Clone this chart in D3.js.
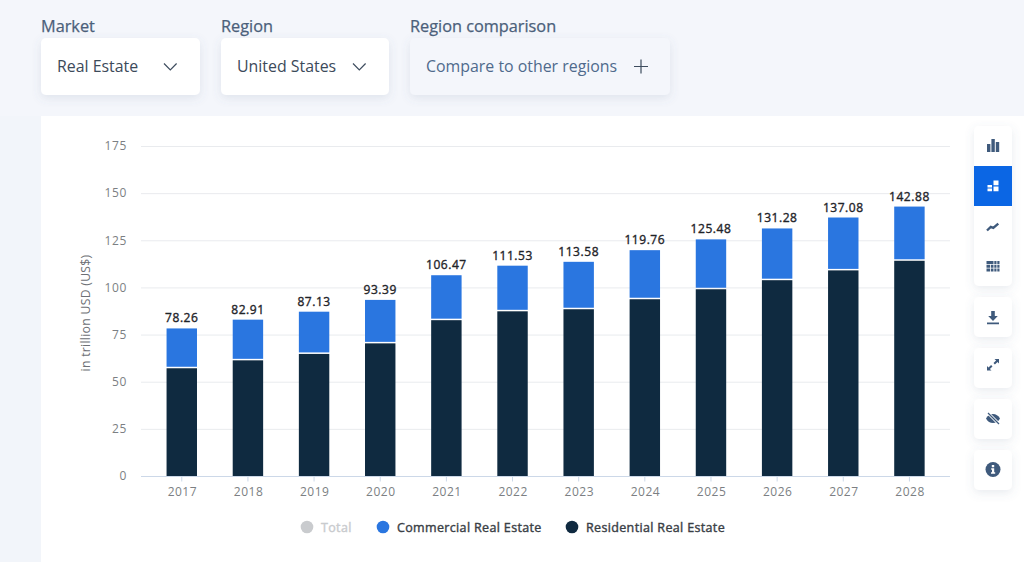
<!DOCTYPE html>
<html>
<head>
<meta charset="utf-8">
<script src="https://cdn.jsdelivr.net/npm/d3@7"></script>
<style>
html,body{margin:0;padding:0;background:#fff;overflow:hidden}
svg{display:block}
text{font-family:"Open Sans",sans-serif}
</style>
</head>
<body>
<svg id="chart" width="1024" height="562"></svg>
<script>
// Market values, trillion USD
const years = ["2017","2018","2019","2020","2021","2022","2023","2024","2025","2026","2027","2028"];
const totals = [78.26,82.91,87.13,93.39,106.47,111.53,113.58,119.76,125.48,131.28,137.08,142.88];
const residential = [57.4,61.6,65.0,70.6,82.9,87.6,88.7,94.0,99.3,104.1,109.3,114.4];
const commercial = totals.map((t,i)=>t-residential[i]);
const yTicks = [0,25,50,75,100,125,150,175];
const legendItems = [
  {name:"Total",color:"#c9cbce",text:"#c9cbce",x:307},
  {name:"Commercial Real Estate",color:"#2a76e0",text:"#3a4046",x:383},
  {name:"Residential Real Estate",color:"#0f2a40",text:"#3a4046",x:572}
];
const filters = [
  {label:"Market",value:"Real Estate",x:41,w:159,mark:"chevron"},
  {label:"Region",value:"United States",x:221,w:168,mark:"chevron"},
  {label:"Region comparison",value:"Compare to other regions",x:410,w:260,mark:"plus"}
];

const svg = d3.select("#chart");
const defs = svg.append("defs");
const shadow = defs.append("filter").attr("id","soft").attr("x","-30%").attr("y","-30%").attr("width","160%").attr("height","170%");
shadow.append("feDropShadow").attr("dx",0).attr("dy",3).attr("stdDeviation",5)
  .attr("flood-color","#5a7090").attr("flood-opacity",0.14);

// Page backdrop: header band and left gutter
svg.append("rect").attr("width",1024).attr("height",116).attr("fill","#f4f6fb");
svg.append("rect").attr("y",116).attr("width",41).attr("height",446).attr("fill","#f2f5fa");

// Filter controls
const filterG = svg.append("g").selectAll("g").data(filters).join("g")
  .attr("transform",d=>`translate(${d.x},0)`);
filterG.append("text").attr("x",0).attr("y",32).attr("font-size",16.3).attr("fill","#4b607a")
  .attr("stroke","#4b607a").attr("stroke-width",0.25).text(d=>d.label);
filterG.append("rect").attr("y",38).attr("width",d=>d.w).attr("height",57).attr("rx",5)
  .attr("fill",d=>d.mark==="plus"?"#f4f6fb":"#fff").attr("filter","url(#soft)");
filterG.append("text").attr("x",16).attr("y",72).attr("font-size",15.9)
  .attr("fill",d=>d.mark==="plus"?"#4f6a8c":"#3c4a5a").text(d=>d.value);
filterG.filter(d=>d.mark==="chevron").append("path")
  .attr("d",d=>`M${d.w-36},63.5 l6.3,6.3 l6.3,-6.3`).attr("fill","none").attr("stroke","#3d4c5e").attr("stroke-width",1.2);
filterG.filter(d=>d.mark==="plus").append("path")
  .attr("d",d=>`M${d.w-36},66.5 h14 M${d.w-29},59.5 v14`).attr("fill","none").attr("stroke","#3d4c5e").attr("stroke-width",1.2);

// Scales
const x = d3.scaleBand().domain(years).range([148.7,942.5]).paddingInner(0.54).paddingOuter(0.27);
const y = d3.scaleLinear().domain([0,175]).range([476,146]);

// Horizontal grid
svg.append("g").selectAll("line").data(yTicks.filter(t=>t>0)).join("line")
  .attr("x1",141).attr("x2",950).attr("y1",d=>y(d)+0.5).attr("y2",d=>y(d)+0.5)
  .attr("stroke","#e9ebee").attr("stroke-width",1);

// Axes
const yAxis = svg.append("g").attr("transform","translate(127,0)")
  .call(d3.axisLeft(y).tickValues(yTicks).tickSize(0).tickPadding(0));
yAxis.select(".domain").remove();
yAxis.selectAll("text").attr("font-family","'Open Sans',sans-serif").attr("font-size",12).attr("fill","#7c7f83").attr("letter-spacing",0.6);

const xAxis = svg.append("g").attr("transform","translate(0,476.5)")
  .call(d3.axisBottom(x).tickSize(5).tickPadding(6));
xAxis.select(".domain").attr("d","M141,0H950").attr("stroke","#ccd8e8").attr("stroke-width",1);
xAxis.selectAll("line").attr("stroke","#ccd8e8");
xAxis.selectAll("text").attr("font-family","'Open Sans',sans-serif").attr("font-size",12).attr("fill","#7c7f83").attr("letter-spacing",0.5).attr("dx",0.6);

svg.append("text").attr("transform","translate(90,313) rotate(-90)").attr("text-anchor","middle")
  .attr("font-size",12.2).attr("fill","#6d7075").attr("letter-spacing",0.3).text("in trillion USD (US$)");

// Stacked bars
const bars = svg.append("g").selectAll("g").data(years).join("g");
bars.append("rect").attr("x",d=>x(d)).attr("width",x.bandwidth())
  .attr("y",(d,i)=>y(residential[i])+0.5).attr("height",(d,i)=>y(0)-y(residential[i])-0.5)
  .attr("fill","#0f2a40");
bars.append("rect").attr("x",d=>x(d)).attr("width",x.bandwidth())
  .attr("y",(d,i)=>y(residential[i]+commercial[i])).attr("height",(d,i)=>y(residential[i])-y(residential[i]+commercial[i])-1)
  .attr("fill","#2a76e0");
bars.append("text").attr("x",d=>x(d)+x.bandwidth()/2).attr("y",(d,i)=>y(totals[i])-6)
  .attr("text-anchor","middle").attr("font-size",12).attr("fill","#1f2429").attr("letter-spacing",0.55)
  .attr("stroke","#1f2429").attr("stroke-width",0.35)
  .text((d,i)=>totals[i].toFixed(2));

// Legend
const legend = svg.append("g").selectAll("g").data(legendItems).join("g")
  .attr("transform",d=>`translate(${d.x},527)`);
legend.append("circle").attr("r",6.3).attr("fill",d=>d.color);
legend.append("text").attr("x",14).attr("y",4.5).attr("font-size",12.5)
  .attr("fill",d=>d.text).attr("stroke",d=>d.text).attr("stroke-width",0.4)
  .attr("letter-spacing",0.35).text(d=>d.name);

// Toolbar on the right
const iconInk = "#3f5a7c";
const cards = [[974,126,38,160],[974,297,38,40],[974,348,38,40],[974,399,38,40],[974,450,38,40]];
svg.append("g").selectAll("rect").data(cards).join("rect")
  .attr("x",d=>d[0]).attr("y",d=>d[1]).attr("width",d=>d[2]).attr("height",d=>d[3]).attr("rx",5)
  .attr("fill","#fff").attr("filter","url(#soft)");
svg.append("rect").attr("x",974).attr("y",166).attr("width",38).attr("height",40).attr("fill","#0b66e4");

const icons = svg.append("g");
// column chart
icons.append("path").attr("fill",iconInk).attr("d","M987,144h3.4v8h-3.4zM991.4,139h3.4v13h-3.4zM995.8,142h3.4v10h-3.4z");
// stacked, selected
icons.append("path").attr("fill","#fff").attr("d","M987.5,185h4.5v2.6h-4.5zM987.5,188.6h4.5v2.6h-4.5zM993.5,180.5h5v4.8h-5zM993.5,186.4h5v4.8h-5z");
// trend line
icons.append("path").attr("fill","none").attr("stroke",iconInk).attr("stroke-width",2.4).attr("d","M987,230.5l3.8,-3.6l2.5,1l5,-4.2");
// table
icons.append("path").attr("fill",iconInk).attr("d","M986.5,261h7v3h-7zM994.3,261h2.2v3h-2.2zM997.3,261h2.2v3h-2.2zM986.5,264.8h3.6v3h-3.6zM990.9,264.8h2.6v3h-2.6zM994.3,264.8h2.2v3h-2.2zM997.3,264.8h2.2v3h-2.2zM986.5,268.6h3.6v3h-3.6zM990.9,268.6h2.6v3h-2.6zM994.3,268.6h2.2v3h-2.2zM997.3,268.6h2.2v3h-2.2z");
// download
icons.append("path").attr("fill",iconInk).attr("d","M991.2,311h3.6v5h3l-4.8,5l-4.8,-5h3zM987,322.5h12v1.8h-12z");
// expand
icons.append("path").attr("fill",iconInk).attr("d","M993.5,363l2.6,-2.4l-1.6,-1.7h4.5v4.6l-1.5,-1.6l-2.6,2.6zM992.5,366.5l-2.6,2.4l1.6,1.7h-4.5v-4.6l1.5,1.6l2.6,-2.6z");
// hidden eye
icons.append("path").attr("fill",iconInk).attr("d","M986,418.5c3,-6 11,-6 14,0c-3,6 -11,6 -14,0z");
icons.append("path").attr("fill","none").attr("stroke","#fff").attr("stroke-width",3).attr("d","M988,413l11,11");
icons.append("path").attr("fill","none").attr("stroke",iconInk).attr("stroke-width",1.3).attr("d","M988,413l11,11");
// info
icons.append("circle").attr("cx",993).attr("cy",469.5).attr("r",7.5).attr("fill",iconInk);
icons.append("path").attr("fill","#fff").attr("d","M991.8,465h2.4v2.2h-2.4zM991.2,468.3h3v4h1v1.4h-4.2v-1.4h1v-2.6h-.8z");
</script>
</body>
</html>
